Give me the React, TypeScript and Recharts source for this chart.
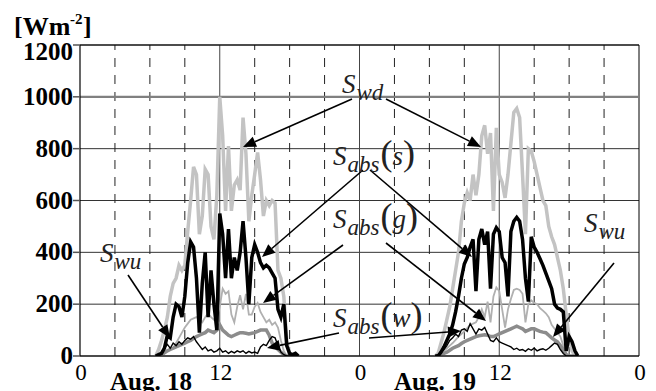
import React from "react";
import { LineChart, Line, XAxis, YAxis, CartesianGrid, ReferenceLine } from "recharts";

// hours since 0:00 Aug. 18 (null row at 24 breaks the lines between days)
const hours = [
  6.5, 6.75, 7, 7.25, 7.5, 7.75, 8, 8.25, 8.5, 8.75, 9, 9.25, 9.5, 9.75, 10, 10.25, 10.5, 10.75, 11, 11.25,
  11.5, 11.75, 12, 12.25, 12.5, 12.75, 13, 13.25, 13.5, 13.75, 14, 14.25, 14.5, 14.75, 15, 15.25, 15.5, 15.75,
  16, 16.25, 16.5, 16.75, 17, 17.25, 17.5, 17.75, 18, 18.25, 18.5, 18.75,
  24,
  30.5, 30.75, 31, 31.25, 31.5, 31.75, 32, 32.25, 32.5, 32.75, 33, 33.25, 33.5, 33.75, 34, 34.25, 34.5, 34.75,
  35, 35.25, 35.5, 35.75, 36, 36.25, 36.5, 36.75, 37, 37.25, 37.5, 37.75, 38, 38.25, 38.5, 38.75, 39, 39.25,
  39.5, 39.75, 40, 40.25, 40.5, 40.75, 41, 41.25, 41.5, 41.75, 42, 42.25, 42.5, 42.75,
];

const swd = [
  0, 25, 60, 100, 150, 230, 280, 300, 350, 330, 350, 480, 600, 730, 700, 470, 540, 720, 700, 500,
  450, 620, 1000, 850, 560, 810, 560, 660, 680, 640, 920, 780, 520, 620, 700, 785, 680, 540, 600, 580,
  600, 590, 330, 300, 230, 60, 0, 0, 0, 0,
  null,
  0, 10, 50, 90, 140, 190, 260, 330, 400, 520, 590, 630, 600, 700, 620, 700, 850, 890, 780, 860,
  560, 880, 700, 670, 610, 700, 820, 940, 955, 920, 700, 470, 800, 790, 750, 700, 650, 600, 580, 500,
  460, 430, 380, 330, 260, 160, 70, 20, 0, 0,
];

const sabsS = [
  0, 5, 10, 30, 80, 70, 150, 200, 190, 150, 230, 360, 440, 420, 300, 90, 280, 400, 150, 330,
  200, 100, 550, 470, 300, 490, 300, 380, 330, 400, 520, 380, 200, 380, 430, 400, 360, 340, 350, 340,
  320, 300, 180, 150, 200, 40, 10, 5, 10, 0,
  null,
  0, 0, 15, 35, 60, 85, 120, 170, 230, 300, 355, 380, 420, 450, 250, 450, 490, 430, 480, 260,
  470, 495, 480, 380, 360, 230, 480, 520, 535, 520, 450, 300, 210, 460, 420, 400, 375, 350, 320, 290,
  260, 200, 185, 180, 170, 20, 75, 55, 20, 0,
];

const sabsG = [
  0, 0, 5, 10, 20, 25, 30, 50, 70, 90, 110, 125, 140, 145, 150, 140, 130, 150, 165, 150,
  140, 150, 190, 260, 240, 250, 160, 130, 190, 235, 180, 240, 160, 160, 190, 205, 170, 150, 130, 140,
  120, 130, 110, 60, 20, 0, 0, 0, 0, 0,
  null,
  0, 0, 10, 20, 30, 40, 50, 62, 75, 85, 95, 108, 120, 125, 130, 150, 180, 150, 210, 130,
  230, 265, 250, 180, 110, 180, 220, 255, 260, 255, 240, 130, 200, 215, 205, 200, 185, 175, 165, 150,
  120, 105, 90, 75, 40, 10, 0, 0, 0, 0,
];

const swu = [
  0, 0, 5, 12, 20, 25, 30, 35, 40, 45, 50, 55, 60, 68, 75, 80, 85, 90, 100, 95,
  90, 100, 120, 100, 90, 80, 75, 80, 85, 90, 90, 88, 85, 88, 90, 95, 100, 100, 100, 80,
  50, 35, 25, 15, 5, 0, 0, 0, 0, 0,
  null,
  0, 0, 5, 10, 15, 22, 30, 35, 40, 48, 55, 60, 65, 70, 75, 78, 80, 82, 80, 75,
  75, 80, 85, 90, 95, 100, 105, 110, 115, 110, 105, 95, 100, 105, 105, 100, 95, 92, 90, 80,
  70, 62, 55, 40, 25, 5, 0, 0, 0, 0,
];

const sabsW = [
  0, 5, 15, 30, 45, 30, 50, 40, 55, 45, 60, 70, 65, 75, 55, 40, 25, 35, 20, 25,
  15, 20, 30, 15, 20, 10, 18, 12, 20, 15, 20, 10, 18, 12, 15, 10, 35, 45, 40, 60,
  75, 70, 40, 15, 5, 0, 0, 0, 0, 0,
  null,
  0, 5, 15, 25, 40, 60, 70, 85, 75, 100, 105, 95, 125, 105, 85, 105, 100, 110, 85, 60,
  55, 70, 55, 50, 45, 40, 35, 25, 30, 22, 25, 18, 28, 22, 30, 20, 25, 28, 22, 30,
  40, 50, 45, 25, 10, 0, 0, 0, 0, 0,
];

const xTicks = [0, 12, 24, 36, 48];
const xTickLabels = ["0", "12", "0", "12", "0"];
const yTicks = [0, 200, 400, 600, 800, 1000, 1200];
const dashedHours = [3, 6, 9, 15, 18, 21, 27, 30, 33, 39, 42, 45];
const solidHours = [12, 24, 36, 48];
const dayLabels = ["Aug. 18", "Aug. 19"];

const rows = hours.map((h, i) => ({
  h,
  swd: swd[i],
  sabsS: sabsS[i],
  sabsG: sabsG[i],
  swu: swu[i],
  sabsW: sabsW[i],
}));

const SERIF = "Liberation Serif";
const fontStyle = { fontFamily: SERIF };
const W = 656;
const H = 391;

const XTick = (props: any) => {
  const { x, y, payload } = props;
  const idx = xTicks.indexOf(payload.value);
  return (
    <text x={x + 1} y={y + 24} textAnchor="middle" style={fontStyle} fontSize={23} fill="#000">
      {xTickLabels[idx]}
    </text>
  );
};

const YTick = (props: any) => {
  const { x, y, payload } = props;
  const dy = payload.value === 1200 ? 15 : 8;
  return (
    <text x={x} y={y + dy} textAnchor="end" style={fontStyle} fontWeight="bold" fontSize={25} fill="#000">
      {payload.value}
    </text>
  );
};

const Arrow = ({ x1, y1, x2, y2 }: { x1: number; y1: number; x2: number; y2: number }) => {
  const dx = x2 - x1;
  const dy = y2 - y1;
  const len = Math.sqrt(dx * dx + dy * dy);
  const ux = dx / len;
  const uy = dy / len;
  const hl = 13;
  const hw = 5.5;
  const bx = x2 - ux * hl;
  const by = y2 - uy * hl;
  const p = `${x2},${y2} ${bx - uy * hw},${by + ux * hw} ${bx + uy * hw},${by - ux * hw}`;
  return (
    <g>
      <line x1={x1} y1={y1} x2={bx} y2={by} stroke="#000" strokeWidth={1.6} />
      <polygon points={p} fill="#000" />
    </g>
  );
};

const Lbl = ({ x, y, sub, arg }: { x: number; y: number; sub: string; arg?: string }) => (
  <text x={x} y={y} style={fontStyle} fill="#222">
    <tspan fontStyle="italic" fontSize={27}>S</tspan>
    <tspan fontStyle="italic" fontSize={23} dy={7} dx={1}>{sub}</tspan>
    {arg ? (
      <>
        <tspan fontSize={36} dy={-7} dx={1}>(</tspan>
        <tspan fontStyle="italic" fontSize={27}>{arg}</tspan>
        <tspan fontSize={36}>)</tspan>
      </>
    ) : null}
  </text>
);

export default function App() {
  return (
    <div style={{ position: "absolute", left: 0, top: 0, width: W, height: H, background: "#fff" }}>
      <LineChart width={W} height={H} data={rows} margin={{ top: 45, right: 17, bottom: 0, left: 0 }}>
        <CartesianGrid vertical={false} stroke="#333" strokeWidth={1} />
        {dashedHours.map((h) => (
          <ReferenceLine key={"d" + h} x={h} stroke="#222" strokeDasharray="9 8" strokeWidth={1} />
        ))}
        {solidHours.map((h) => (
          <ReferenceLine key={"s" + h} x={h} stroke={h === 48 ? "#000" : "#444"} strokeWidth={1} />
        ))}
        <ReferenceLine y={1000} stroke="#808080" strokeWidth={2.2} />
        <ReferenceLine y={1200} stroke="#000" strokeWidth={1.2} />
        <XAxis
          dataKey="h"
          type="number"
          domain={[0, 48]}
          ticks={xTicks}
          tick={<XTick />}
          tickLine={false}
          tickSize={0}
          tickMargin={0}
          height={35}
          axisLine={{ stroke: "#000", strokeWidth: 1.2 }}
          allowDataOverflow
        />
        <YAxis
          domain={[0, 1200]}
          ticks={yTicks}
          tick={<YTick />}
          width={80}
          tickSize={7}
          tickMargin={0}
          tickLine={{ stroke: "#555", strokeWidth: 1.5 }}
          axisLine={{ stroke: "#000", strokeWidth: 1.2 }}
          allowDataOverflow
        />
        <Line dataKey="swd" type="linear" stroke="#c3c3c3" strokeWidth={3.5} dot={false} isAnimationActive={false} />
        <Line dataKey="sabsG" type="linear" stroke="#b0b0b0" strokeWidth={1.8} dot={false} isAnimationActive={false} />
        <Line dataKey="swu" type="linear" stroke="#8c8c8c" strokeWidth={3.5} dot={false} isAnimationActive={false} />
        <Line dataKey="sabsS" type="linear" stroke="#000" strokeWidth={3.5} dot={false} isAnimationActive={false} />
        <Line dataKey="sabsW" type="linear" stroke="#000" strokeWidth={1.4} dot={false} isAnimationActive={false} />
      </LineChart>
      <svg width={W} height={H} style={{ position: "absolute", left: 0, top: 0, pointerEvents: "none" }}>
        <text x={14} y={35} style={fontStyle} fontWeight="bold" fontSize={26} fill="#000">
          [Wm
        </text>
        <text x={70} y={24} style={fontStyle} fontWeight="bold" fontSize={15} fill="#000">
          -2
        </text>
        <text x={83} y={35} style={fontStyle} fontWeight="bold" fontSize={26} fill="#000">
          ]
        </text>
        <text x={151} y={390} textAnchor="middle" style={fontStyle} fontWeight="bold" fontSize={25} fill="#000">
          {dayLabels[0]}
        </text>
        <text x={435} y={390} textAnchor="middle" style={fontStyle} fontWeight="bold" fontSize={25} fill="#000">
          {dayLabels[1]}
        </text>

        <Arrow x1={352} y1={99} x2={243} y2={147} />
        <Arrow x1={386} y1={99} x2={481} y2={147} />
        <Arrow x1={363} y1={170} x2={262} y2={257} />
        <Arrow x1={370} y1={170} x2={472} y2={257} />
        <Arrow x1={343} y1={245} x2={263} y2={303} />
        <Arrow x1={386} y1={243} x2={486} y2={321} />
        <Arrow x1={339} y1={333} x2={267} y2={348} />
        <Arrow x1={369} y1={338} x2={461} y2={331} />
        <Arrow x1={128} y1={275} x2={170} y2={338} />
        <Arrow x1={614} y1={263} x2={553} y2={337} />

        <Lbl x={342} y={93} sub="wd" />
        <Lbl x={333} y={165} sub="abs" arg="s" />
        <Lbl x={333} y={228} sub="abs" arg="g" />
        <Lbl x={333} y={327} sub="abs" arg="w" />
        <Lbl x={100} y={262} sub="wu" />
        <Lbl x={584} y={232} sub="wu" />
      </svg>
    </div>
  );
}
